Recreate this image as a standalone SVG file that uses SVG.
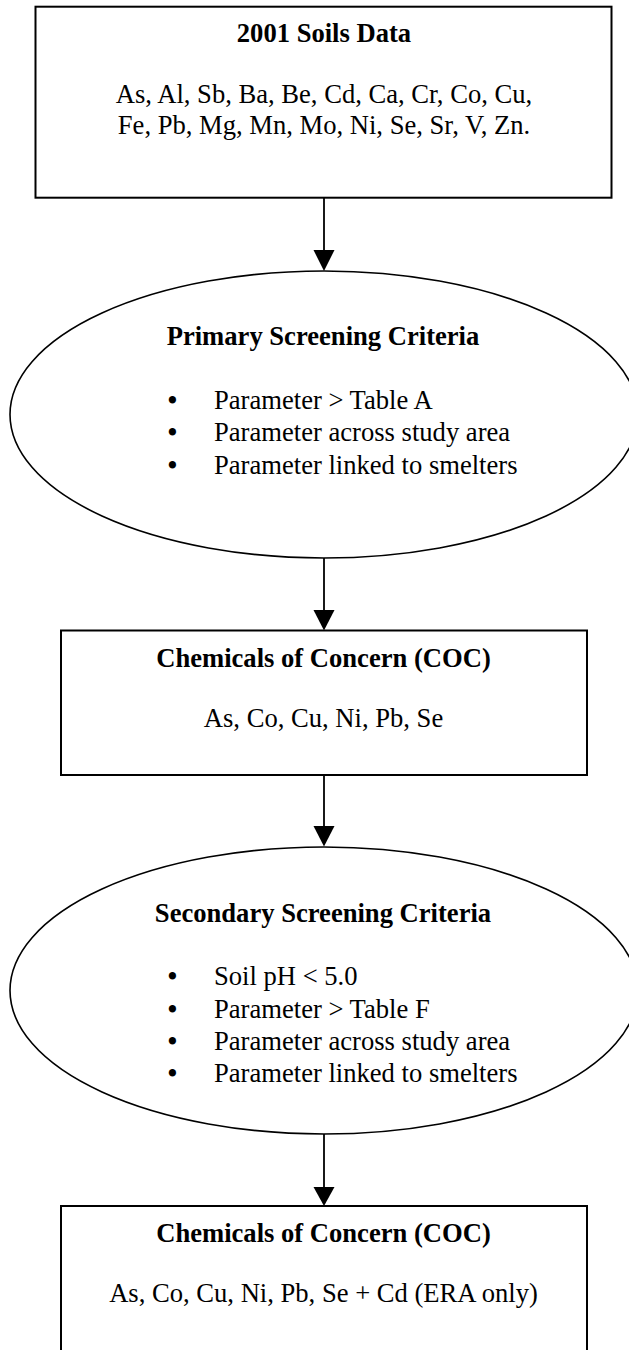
<svg xmlns="http://www.w3.org/2000/svg" width="629" height="1350" viewBox="0 0 629 1350">
  <style>
    .box { fill: #ffffff; stroke: #000000; stroke-width: 2; }
    .ell { fill: #ffffff; stroke: #000000; stroke-width: 1.6; }
    .conn { stroke: #000000; stroke-width: 1.8; fill: none; }
    .head { fill: #000000; stroke: none; }
    text { font-family: "Liberation Serif", "Times New Roman", serif; font-size: 26.6px; fill: #000000; }
    .title { font-weight: bold; text-anchor: middle; }
    .body { text-anchor: middle; }
    .bul { text-anchor: middle; font-weight: bold; }
  </style>
  <rect width="629" height="1350" fill="#ffffff"/>

  <g id="node-soils-data">
    <rect class="box" x="35.5" y="6.7" width="576" height="191"/>
    <text class="title" x="324" y="42.3">2001 Soils Data</text>
    <text class="body" x="324" y="103.3">As, Al, Sb, Ba, Be, Cd, Ca, Cr, Co, Cu,</text>
    <text class="body" x="324" y="134.3">Fe, Pb, Mg, Mn, Mo, Ni, Se, Sr, V, Zn.</text>
  </g>

  <g id="node-primary-screening">
    <ellipse class="ell" cx="324" cy="414.5" rx="314" ry="143.5"/>
    <text class="title" x="323" y="345">Primary Screening Criteria</text>
    <text class="bul" x="172.4" y="409">•</text>
    <text x="214" y="409">Parameter &gt; Table A</text>
    <text class="bul" x="172.4" y="441">•</text>
    <text x="214" y="441">Parameter across study area</text>
    <text class="bul" x="172.4" y="473.5">•</text>
    <text x="214" y="473.5">Parameter linked to smelters</text>
  </g>

  <g id="node-coc-1">
    <rect class="box" x="61" y="630.5" width="526" height="144.5"/>
    <text class="title" x="323.5" y="666.7">Chemicals of Concern (COC)</text>
    <text class="body" x="323.5" y="726.7">As, Co, Cu, Ni, Pb, Se</text>
  </g>

  <g id="node-secondary-screening">
    <ellipse class="ell" cx="324" cy="990.5" rx="314" ry="143.5"/>
    <text class="title" x="323" y="921.7">Secondary Screening Criteria</text>
    <text class="bul" x="172.4" y="985">•</text>
    <text x="214" y="985">Soil pH &lt; 5.0</text>
    <text class="bul" x="172.4" y="1017.5">•</text>
    <text x="214" y="1017.5">Parameter &gt; Table F</text>
    <text class="bul" x="172.4" y="1050">•</text>
    <text x="214" y="1050">Parameter across study area</text>
    <text class="bul" x="172.4" y="1082">•</text>
    <text x="214" y="1082">Parameter linked to smelters</text>
  </g>

  <g id="node-coc-2">
    <rect class="box" x="61" y="1206" width="526" height="150"/>
    <text class="title" x="323.5" y="1241.7">Chemicals of Concern (COC)</text>
    <text class="body" x="323.5" y="1301.7">As, Co, Cu, Ni, Pb, Se + Cd (ERA only)</text>
  </g>

  <g id="connectors">
    <line class="conn" x1="324" y1="198" x2="324" y2="252"/>
    <polygon class="head" points="313.5,250 334.5,250 324,271"/>
    <line class="conn" x1="324" y1="558" x2="324" y2="612"/>
    <polygon class="head" points="313.5,610 334.5,610 324,630.5"/>
    <line class="conn" x1="324" y1="775" x2="324" y2="828"/>
    <polygon class="head" points="313.5,826 334.5,826 324,846.5"/>
    <line class="conn" x1="324" y1="1134" x2="324" y2="1189"/>
    <polygon class="head" points="313.5,1187 334.5,1187 324,1206"/>
  </g>
</svg>
